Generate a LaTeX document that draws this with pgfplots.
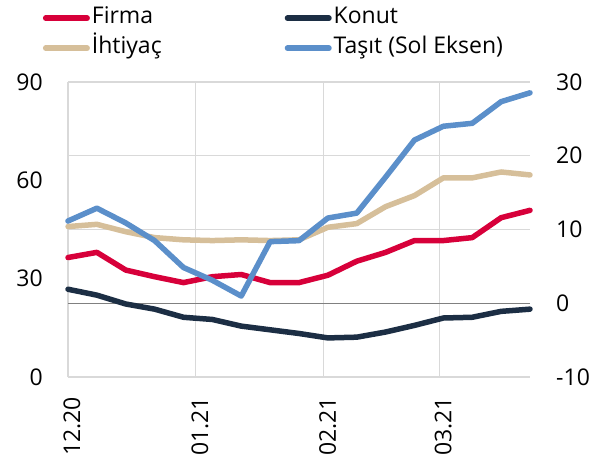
\documentclass[border=0pt]{standalone}
\usepackage{fontspec}
\setmainfont{Open Sans}
\usepackage{pgfplots}
\usepackage{pgfplotstable}
\pgfplotsset{compat=1.18}

\definecolor{firma}{HTML}{D7003A}
\definecolor{konut}{HTML}{1C2E44}
\definecolor{ihtiyac}{HTML}{D6BF9A}
\definecolor{tasit}{HTML}{5B8FCA}
\definecolor{gridgray}{HTML}{D9D9D9}
\definecolor{zerogray}{HTML}{808080}

% weekly data, x in days from 1 Dec 2020
\pgfplotstableread{
x   firma konut ihtiyac tasit
0   6.2   1.9   10.4    47.6
7   6.9   1.1   10.7    51.5
14  4.5  -0.1    9.7    47.0
21  3.6  -0.8    8.9    41.6
28  2.8  -1.9    8.6    33.4
35  3.6  -2.2    8.5    29.5
42  3.9  -3.1    8.6    24.7
49  2.8  -3.6    8.5    41.3
56  2.8  -4.1    8.6    41.6
63  3.8  -4.7   10.3    48.5
70  5.7  -4.6   10.8    50.0
77  6.9  -3.9   13.1    61.0
84  8.5  -3.0   14.6    72.3
91  8.5  -2.0   17.0    76.5
98  8.9  -1.9   17.0    77.4
105 11.6 -1.1   17.8    84.0
112 12.6 -0.8   17.4    86.7
}\data

\newcommand{\bigfont}{\fontsize{23}{27}\selectfont}

\pgfplotsset{
  base/.style={
    scale only axis, width=462pt, height=295pt,
    at={(68pt,84pt)}, anchor=south west,
    xmin=0, xmax=112, clip=false,
    axis line style={draw=none},
    major tick length=0pt,
    tick label style={font=\bigfont, inner sep=0pt},
  },
  serie/.style={line width=5.5pt, line join=round, line cap=round},
}

\begin{document}
\begin{tikzpicture}
\useasboundingbox (0,0) rectangle (610pt,461pt);

% right axis: Firma, Konut, Ihtiyac
\begin{axis}[base,
    ymin=-10, ymax=30,
    ytick={-10,0,10,20,30},
    yticklabels={-10,0,10,20,30},
    yticklabel pos=right,
    y tick label style={anchor=west, xshift=26pt},
    xtick={0,31,62,90},
    xticklabels={12.20,01.21,02.21,03.21},
    xticklabel shift=20pt,
    x tick label style={rotate=90, anchor=east, yshift=-4pt},
    xmajorgrids, ymajorgrids,
    grid style={gridgray, line width=1.2pt},
]
\draw[zerogray, line width=1.5pt] (axis cs:0,0) -- (axis cs:112,0);
\addplot[serie, konut] table[x=x, y=konut] {\data};
\addplot[serie, firma] table[x=x, y=firma] {\data};
\addplot[serie, ihtiyac] table[x=x, y=ihtiyac] {\data};
\end{axis}

% left axis: Tasit
\begin{axis}[base,
    ymin=0, ymax=90,
    ytick={0,30,60,90},
    yticklabels={0,30,60,90},
    yticklabel pos=left,
    y tick label style={anchor=east, xshift=-25pt},
    xtick=\empty,
    legend columns=2,
    legend cell align=left,
    legend image code/.code={\draw[#1] (0pt,0pt) -- (41.5pt,0pt);},
    legend style={draw=none, fill=none, inner sep=0pt,
      at={(-0.0547,1.2627)}, anchor=north west,
      font=\bigfont, row sep=3pt,
      nodes={inner sep=2pt, text height=17pt, text depth=6pt},
      /tikz/every even column/.append style={column sep=121pt}},
]
\addlegendimage{serie, firma}
\addlegendentry{Firma}
\addlegendimage{serie, konut}
\addlegendentry{Konut}
\addlegendimage{serie, ihtiyac}
\addlegendentry{İhtiyaç}
\addplot[serie, tasit] table[x=x, y=tasit] {\data};
\addlegendentry{Taşıt (Sol Eksen)}
\end{axis}
\end{tikzpicture}
\end{document}
